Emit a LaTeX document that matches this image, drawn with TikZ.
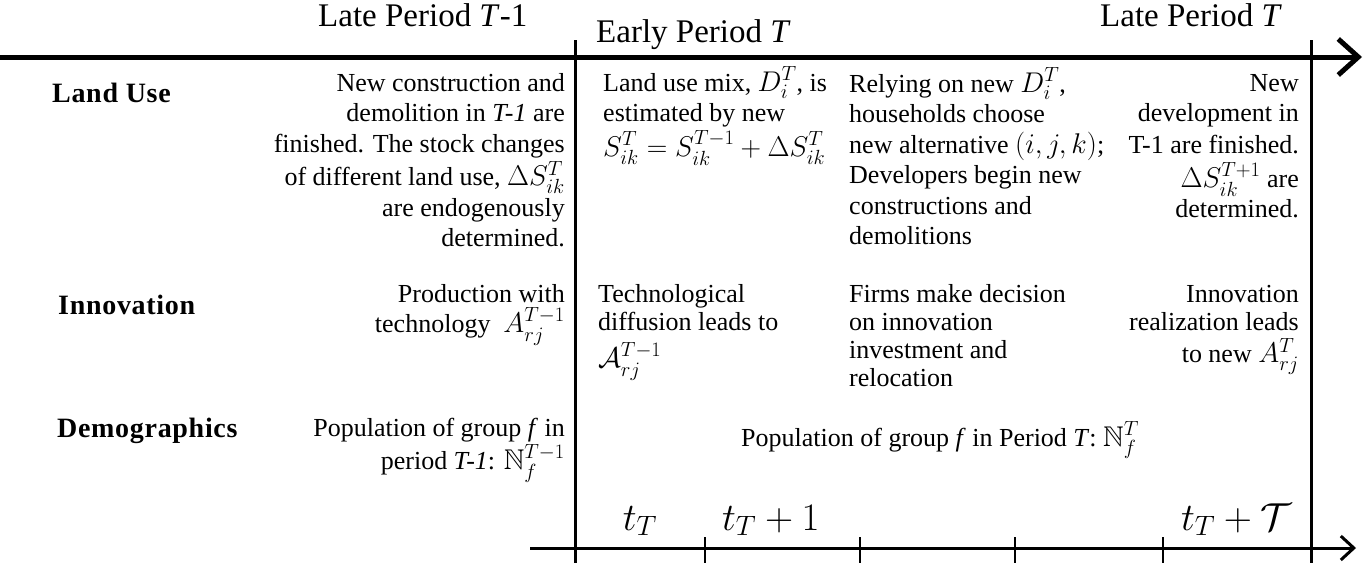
\RequirePackage{fix-cm}
\documentclass[tikz,border=0pt]{standalone}
\usepackage{amssymb}
\usepackage{fontspec}
\setmainfont{Liberation Serif}
\usetikzlibrary{arrows.meta}
\DeclareMathSizes{26}{28.5}{20.5}{16}
\DeclareMathSizes{36}{39}{28}{20}
\newcommand\rblock[1]{\begin{tabular}[t]{@{}r@{}}#1\end{tabular}}
\newcommand\lblock[1]{\begin{tabular}[t]{@{}l@{}}#1\end{tabular}}
\tikzset{
  txt/.style={inner sep=0pt, font=\fontsize{26}{30.5}\selectfont},
  txti/.style={inner sep=0pt, font=\fontsize{26}{28}\selectfont},
  txtd/.style={inner sep=0pt, font=\fontsize{26}{27}\selectfont},
  hdr/.style={inner sep=0pt, font=\fontsize{33}{38}\selectfont},
  rowlbl/.style={inner sep=0pt, font=\fontsize{28}{32}\selectfont\bfseries\addfontfeatures{LetterSpace=2.5}, anchor=base west},
  tlbl/.style={inner sep=0pt, font=\fontsize{36}{40}\selectfont},
  mainaxis/.style={line width=5pt},
  divider/.style={line width=3pt},
  subaxis/.style={line width=3pt},
  tick/.style={line width=2.5pt},
}
\begin{document}
\begin{tikzpicture}[x=1pt,y=-1pt]
\useasboundingbox (0,0) rectangle (1365,563);
% axes and dividers
\coordinate (ta0) at (0,57);
\coordinate (ta1) at (1362,57);
\draw[mainaxis,-{Straight Barb[length=20pt,width=36pt]}] (ta0) -- (ta1);
\coordinate (v1t) at (575,40);
\coordinate (v1b) at (575,563);
\coordinate (v2t) at (1311,40);
\coordinate (v2b) at (1311,563);
\draw[divider] (v1t) -- (v1b);
\draw[divider] (v2t) -- (v2b);
\coordinate (ba0) at (530,548);
\coordinate (ba1) at (1356,548);
\draw[subaxis,-{Straight Barb[length=13pt,width=24pt]}] (ba0) -- (ba1);
\foreach \x/\n in {705/a,860/b,1015/c,1163/d}{
  \coordinate (k\n t) at (\x,537);
  \coordinate (k\n b) at (\x,563);
  \draw[tick] (k\n t) -- (k\n b);
}
% headers
\node[hdr,anchor=base west] (h1) at (318,26) {Late Period \textit{T}-1};
\node[hdr,anchor=base west] (h2) at (596,42) {Early Period \textit{T}};
\node[hdr,anchor=base east] (h3) at (1282,26) {Late Period \textit{T}};
% row labels
\node[rowlbl] (r1) at (52,102) {Land Use};
\node[rowlbl] (r2) at (58,314) {Innovation};
\node[rowlbl] (r3) at (57,437) {Demographics};
% land use row
\node[txt,anchor=base east] (lu1) at (565,91) {\rblock{New construction and\\
demolition in \textit{T-1} are\\
finished. The stock changes\\
of different land use, $\Delta S_{ik}^{T}$\\
are endogenously\\
determined.}};
\node[txt,anchor=base west] (lu2) at (603,91) {\lblock{Land use mix, $D_i^T$, is\\
estimated by new\\
$S_{ik}^{T}=S_{ik}^{T-1}+\Delta S_{ik}^{T}$}};
\node[txt,anchor=base west] (lu3) at (849,92) {\lblock{Relying on new $D_i^T$,\\
households choose\\
new alternative $(i,j,k)$;\\
Developers begin new\\
constructions and\\
demolitions}};
\node[txt,anchor=base east] (lu4) at (1299,91) {\rblock{New\\
development in\\[1pt]
T-1 are finished.\\
$\Delta S_{ik}^{T+1}$ are\\
determined.}};
% innovation row
\node[txti,anchor=base east] (in1) at (565,302) {\rblock{Production with\\[-3pt]
technology\ \ $A_{rj}^{T-1}$}};
\node[txti,anchor=base west] (in2) at (598,302) {\lblock{Technological\\
diffusion leads to\\[4pt]
$\mathcal{A}_{rj}^{T-1}$}};
\node[txti,anchor=base west] (in3) at (849,302) {\lblock{Firms make decision\\
on innovation\\
investment and\\
relocation}};
\node[txti,anchor=base east] (in4) at (1299,302) {\rblock{Innovation\\
realization leads\\
to new $A_{rj}^{T}$}};
% demographics row
\node[txtd,anchor=base east] (de1) at (565,436) {\rblock{Population of group \textit{f} in\\
period \textit{T-1}: $\mathbb{N}_f^{T-1}$}};
\node[txt,anchor=base] (de2) at (940,446) {Population of group \textit{f} in Period \textit{T}: $\mathbb{N}_f^{T}$};
% time labels
\node[tlbl,anchor=base] (t1) at (640,530) {$t_T$};
\node[tlbl,anchor=base west] (t2) at (722,530) {$t_T+1$};
\node[tlbl,anchor=base east] (t3) at (1292,530) {$t_T+\mathcal{T}$};
\end{tikzpicture}
\end{document}
